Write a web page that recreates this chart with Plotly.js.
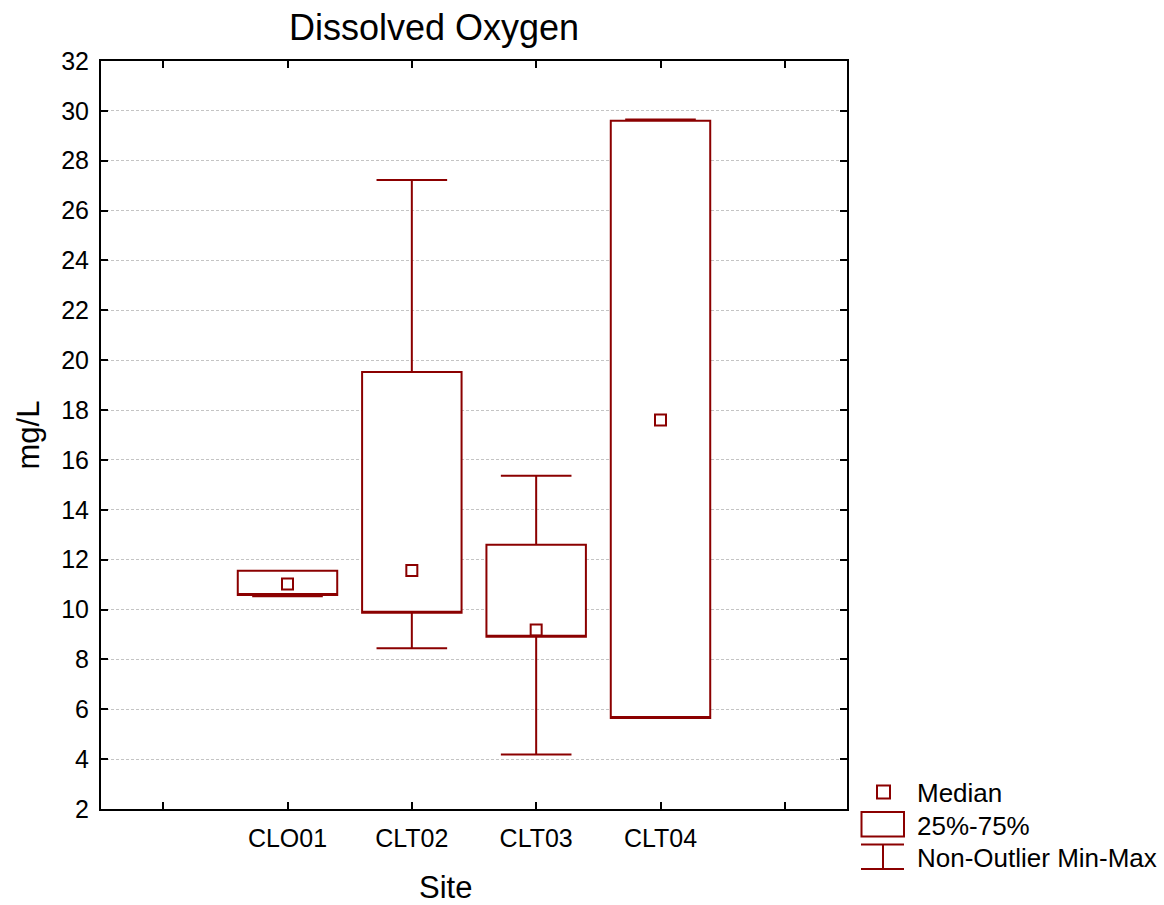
<!DOCTYPE html>
<html>
<head>
<meta charset="utf-8">
<script src="https://cdn.plot.ly/plotly-3.0.1.min.js"></script>
<style>html,body{margin:0;padding:0;background:#fff;}#chart{width:1164px;height:905px;}</style>
</head>
<body>
<div id="chart"></div>
<script>
// ---- data ----
const sites = ['CLO01', 'CLT02', 'CLT03', 'CLT04'];
const q1Vals = [10.58, 9.87, 8.91, 5.65];
const q3Vals = [11.56, 19.53, 12.6, 29.6];
const medianVals = [11.02, 11.57, 9.18, 17.6];
const minVals = [10.53, 8.45, 4.19, 5.65];
const maxVals = [11.56, 27.23, 15.37, 29.65];
const tickLabels = ['', 'CLO01', 'CLT02', 'CLT03', 'CLT04', ''];
const legendNames = ['Median', '25%-75%', 'Non-Outlier Min-Max'];

const RED = '#8b0000';
const FONT = 'Liberation Sans, Arial, sans-serif';
const xPos = sites.map((s, i) => i + 1);

const boxTrace = {
  type: 'box',
  x: xPos,
  q1: q1Vals,
  median: q1Vals, // median drawn separately as square markers
  q3: q3Vals,
  lowerfence: minVals,
  upperfence: maxVals,
  width: 0.8,
  whiskerwidth: 0.71,
  boxpoints: false,
  fillcolor: '#ffffff',
  line: {color: RED, width: 2},
  hoverinfo: 'skip',
  showlegend: false
};

const medTrace = {
  type: 'scatter',
  mode: 'markers',
  x: xPos,
  y: medianVals,
  marker: {symbol: 'square-open', size: 11, color: RED, line: {color: RED, width: 2}},
  showlegend: false,
  hoverinfo: 'skip'
};

// plot area pixel geometry (for legend placement in paper coords)
const L = 101, R = 847, T = 61, B = 809;
const px = p => (p - L) / (R - L);
const py = p => (B - p) / (B - T);

const shapes = [
  {type: 'rect', xref: 'paper', yref: 'paper', x0: px(877), x1: px(890), y0: py(785.5), y1: py(798.5), line: {color: RED, width: 2}},
  {type: 'rect', xref: 'paper', yref: 'paper', x0: px(861.5), x1: px(904), y0: py(812), y1: py(836.5), line: {color: RED, width: 2}},
  {type: 'line', xref: 'paper', yref: 'paper', x0: px(861), x1: px(904), y0: py(844.5), y1: py(844.5), line: {color: RED, width: 2}},
  {type: 'line', xref: 'paper', yref: 'paper', x0: px(861), x1: px(904), y0: py(869), y1: py(869), line: {color: RED, width: 2}},
  {type: 'line', xref: 'paper', yref: 'paper', x0: px(883), x1: px(883), y0: py(844.5), y1: py(869), line: {color: RED, width: 2}}
];

const legendY = [793, 826, 858];
const annotations = legendNames.map((n, i) => ({
  xref: 'paper', yref: 'paper', x: px(915), y: py(legendY[i]),
  xanchor: 'left', yanchor: 'middle', text: n, showarrow: false,
  font: {family: FONT, size: 26, color: '#000'}
}));
annotations.push({
  xref: 'paper', yref: 'paper', x: px(445), y: py(887),
  xanchor: 'center', yanchor: 'middle', text: 'Site', showarrow: false,
  font: {family: FONT, size: 31, color: '#000'}
});

const layout = {
  width: 1164, height: 905,
  paper_bgcolor: '#fff', plot_bgcolor: '#fff',
  margin: {l: L, r: 1164 - R, t: T, b: 905 - B},
  font: {family: FONT, color: '#000'},
  title: {text: 'Dissolved Oxygen', x: 434 / 1164, xanchor: 'center', xref: 'container',
          y: 1 - 27 / 905, yanchor: 'middle', yref: 'container',
          font: {family: FONT, size: 36, color: '#000'}},
  showlegend: false,
  xaxis: {
    range: [-0.5, 5.5], tickmode: 'array', tickvals: tickLabels.map((t, i) => i), ticktext: tickLabels,
    showgrid: false, zeroline: false, showline: true, linecolor: '#000', linewidth: 2,
    mirror: 'ticks', ticks: 'inside', ticklen: 7, tickwidth: 2, tickcolor: '#000',
    ticklabelstandoff: 6,
    tickfont: {family: FONT, size: 25, color: '#000'}, fixedrange: true
  },
  yaxis: {
    range: [2, 32], tickmode: 'linear', tick0: 2, dtick: 2,
    showgrid: true, gridcolor: '#c4c4c4', gridwidth: 1, griddash: '3px,2px',
    zeroline: false, showline: true, linecolor: '#000', linewidth: 2,
    mirror: 'ticks', ticks: 'inside', ticklen: 7, tickwidth: 2, tickcolor: '#000',
    ticklabelstandoff: 5,
    tickfont: {family: FONT, size: 25, color: '#000'},
    title: {text: 'mg/L', font: {family: FONT, size: 31, color: '#000'}, standoff: 12},
    fixedrange: true
  },
  shapes: shapes,
  annotations: annotations
};

Plotly.newPlot('chart', [boxTrace, medTrace], layout, {displayModeBar: false, staticPlot: true});
</script>
</body>
</html>
